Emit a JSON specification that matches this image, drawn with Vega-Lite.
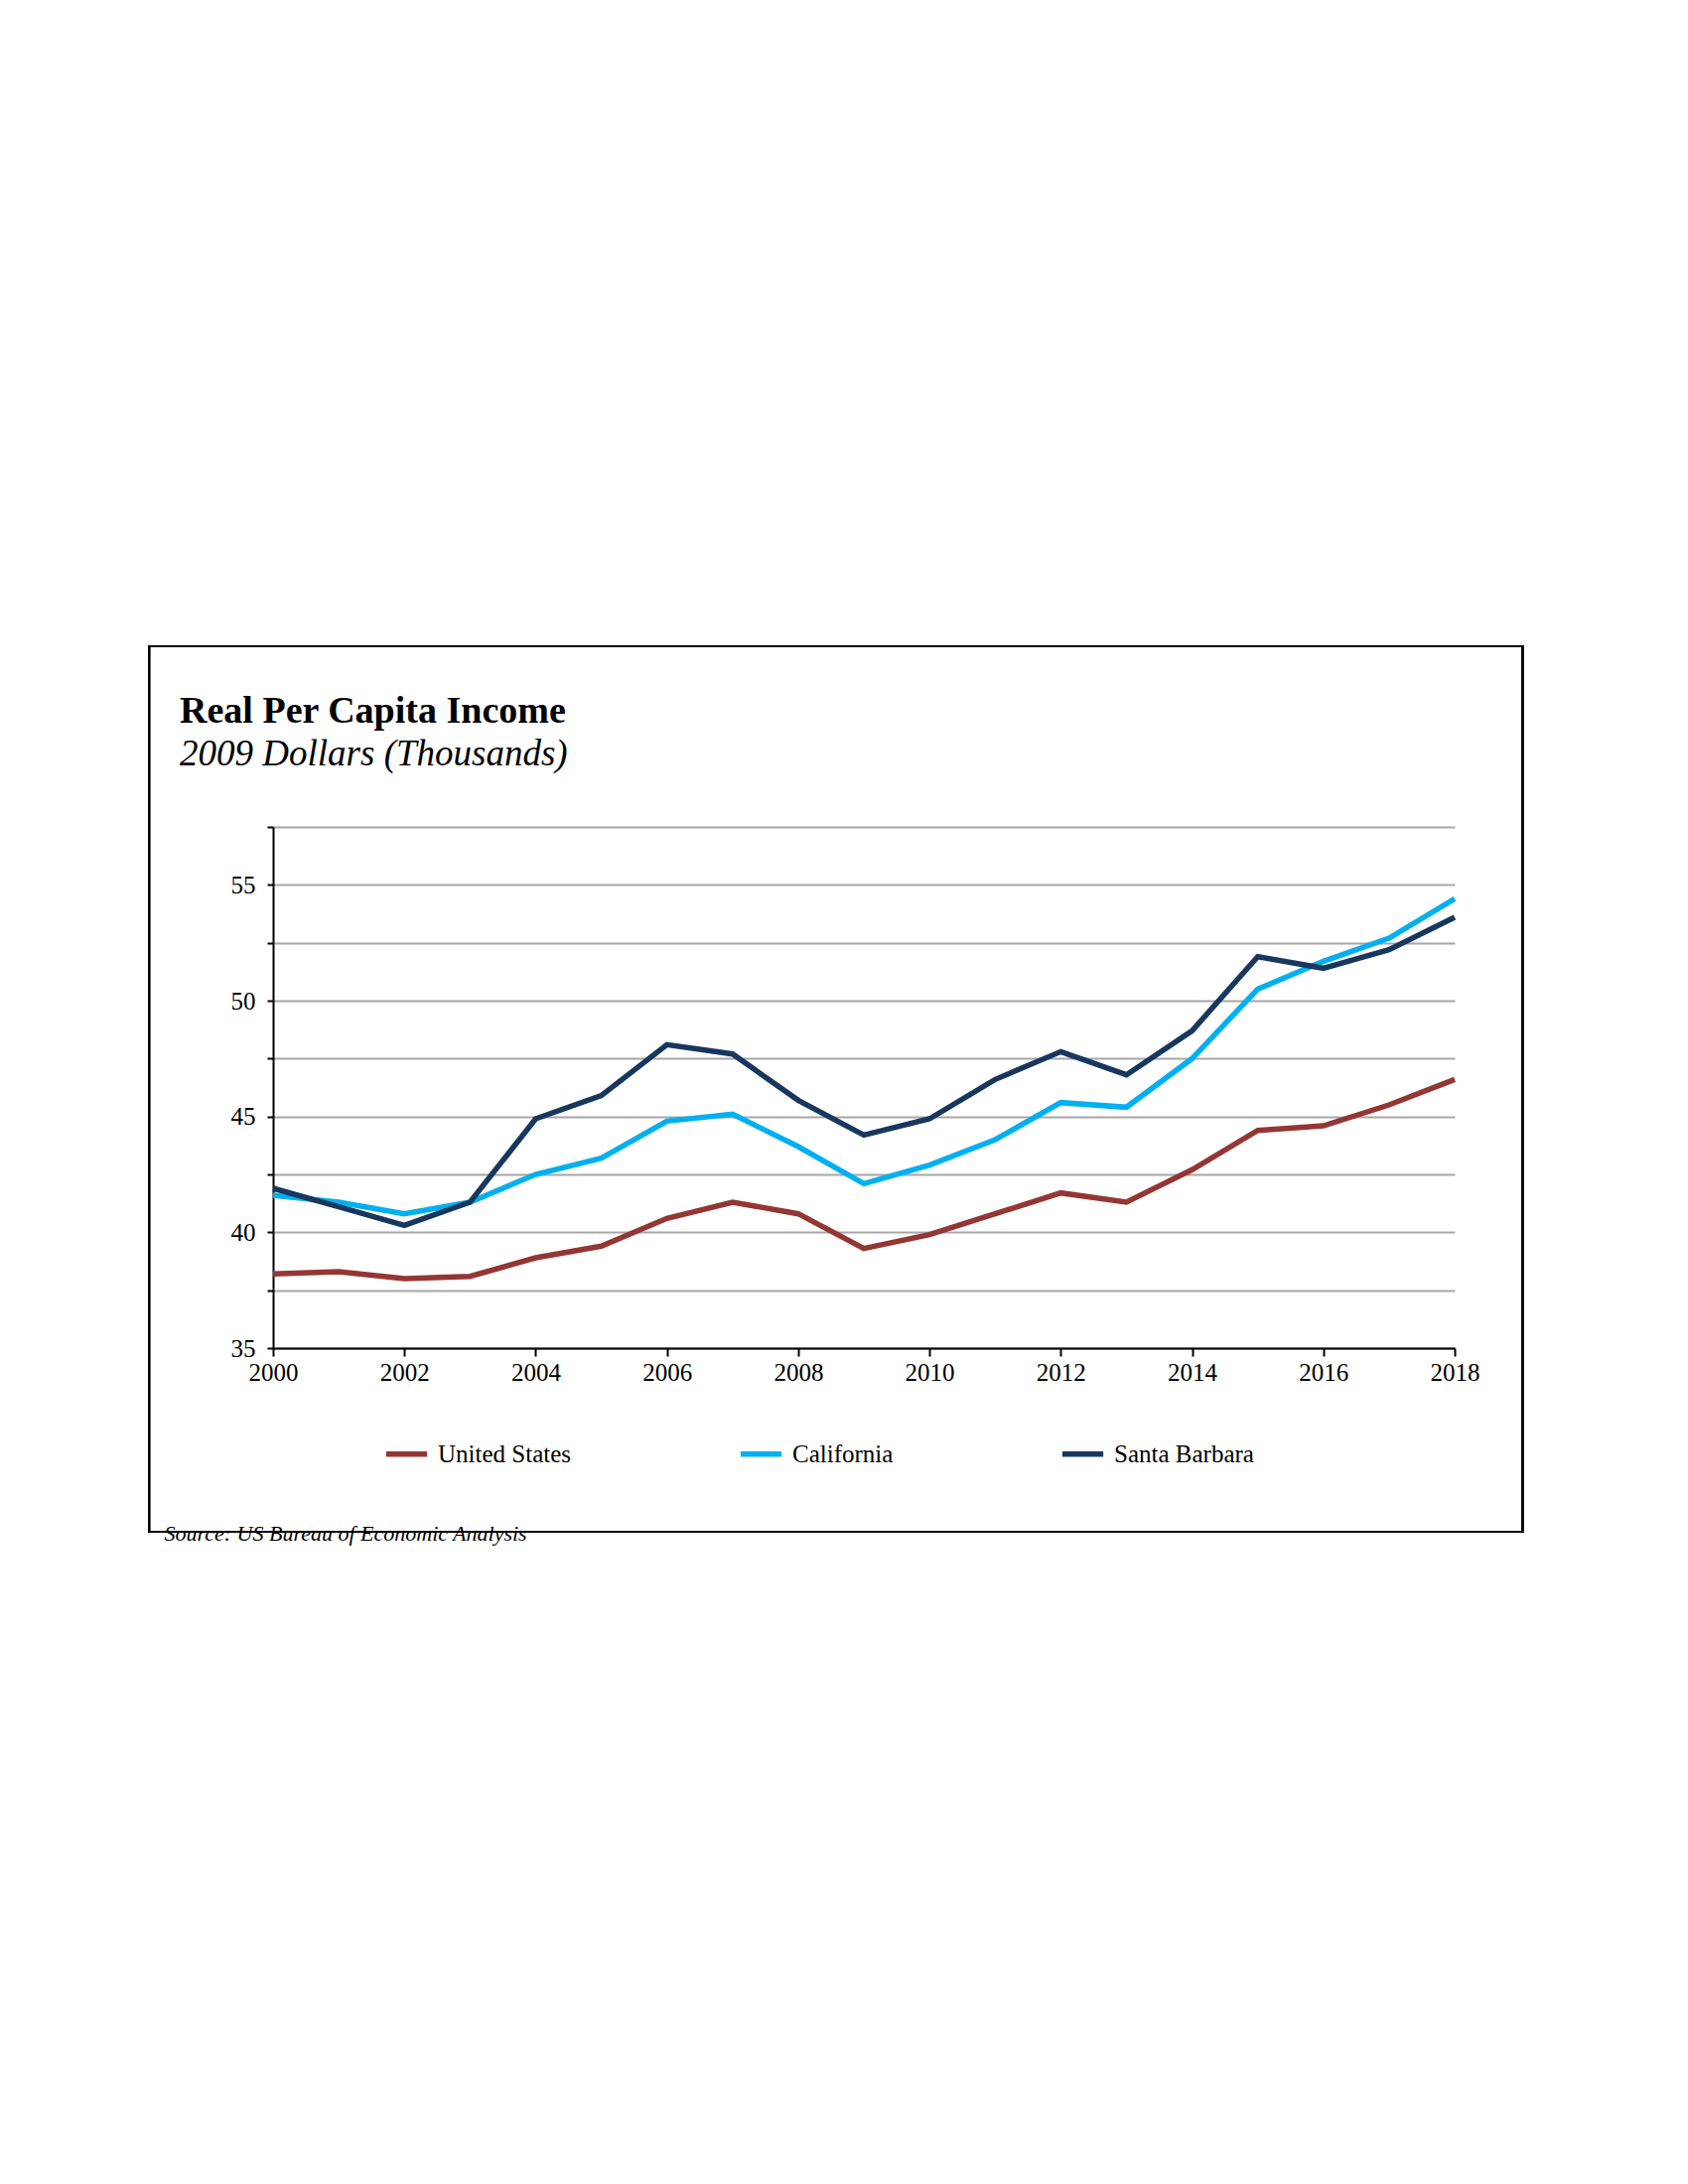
{
"$schema":"https://vega.github.io/schema/vega-lite/v6.json",
"autosize":"none","width":1190,"height":525,
"padding":{"left":275,"top":833,"right":235,"bottom":842},
"background":"white",
"config":{"view":{"stroke":null},"font":"Liberation Serif","axis":{"labelFont":"Liberation Serif","titleFont":"Liberation Serif"},"legend":{"labelFont":"Liberation Serif"}},
"title":{"text":"Real Per Capita Income","subtitle":"2009 Dollars (Thousands)","anchor":"start","dx":32,"offset":-128,"fontSize":38,"font":"Liberation Serif","fontWeight":"bold","subtitleFont":"Liberation Serif","subtitleFontSize":37,"subtitleFontStyle":"italic","subtitleColor":"black","subtitlePadding":6,"color":"black"},
"data":{"values":[
{"year":2000,"us":38.2,"ca":41.6,"sb":41.9},
{"year":2001,"us":38.3,"ca":41.3,"sb":41.1},
{"year":2002,"us":38.0,"ca":40.8,"sb":40.3},
{"year":2003,"us":38.1,"ca":41.3,"sb":41.3},
{"year":2004,"us":38.9,"ca":42.5,"sb":44.9},
{"year":2005,"us":39.4,"ca":43.2,"sb":45.9},
{"year":2006,"us":40.6,"ca":44.8,"sb":48.1},
{"year":2007,"us":41.3,"ca":45.1,"sb":47.7},
{"year":2008,"us":40.8,"ca":43.7,"sb":45.7},
{"year":2009,"us":39.3,"ca":42.1,"sb":44.2},
{"year":2010,"us":39.9,"ca":42.9,"sb":44.9},
{"year":2011,"us":40.8,"ca":44.0,"sb":46.6},
{"year":2012,"us":41.7,"ca":45.6,"sb":47.8},
{"year":2013,"us":41.3,"ca":45.4,"sb":46.8},
{"year":2014,"us":42.7,"ca":47.5,"sb":48.7},
{"year":2015,"us":44.4,"ca":50.5,"sb":51.9},
{"year":2016,"us":44.6,"ca":51.7,"sb":51.4},
{"year":2017,"us":45.5,"ca":52.7,"sb":52.2},
{"year":2018,"us":46.6,"ca":54.4,"sb":53.6}
]},
"layer":[
{"mark":{"type":"rect","fill":null,"stroke":"black","strokeWidth":2,"clip":false},
 "encoding":{"x":{"datum":1998.11,"type":"quantitative"},"x2":{"datum":2019.03},"y":{"datum":65.3,"type":"quantitative"},"y2":{"datum":27.07}}},
{"transform":[{"fold":["us","ca","sb"],"as":["key","value"]},
 {"calculate":"datum.key=='us'?'United States':datum.key=='ca'?'California':'Santa Barbara'","as":"series"}],
 "mark":{"type":"line","strokeWidth":5.5},
 "encoding":{
  "x":{"field":"year","type":"quantitative","scale":{"domain":[2000,2018],"nice":false,"zero":false},
   "axis":{"values":[2000,2002,2004,2006,2008,2010,2012,2014,2016,2018],"format":"d","grid":false,"labelFlush":false,"domainColor":"black","domainWidth":2,"tickColor":"black","tickWidth":2,"tickSize":8,"labelFontSize":25,"labelColor":"black","labelPadding":4,
    "title":"Source:  US Bureau of Economic Analysis","titleFontStyle":"italic","titleFontWeight":"normal","titleFontSize":22,"titleColor":"black","titleAnchor":"start","titleAlign":"left","titleX":-110,"titleY":176}},
  "y":{"field":"value","type":"quantitative","scale":{"domain":[35,57.5],"nice":false,"zero":false},
   "axis":{"values":[35,37.5,40,42.5,45,47.5,50,52.5,55,57.5],"labelExpr":"datum.value%5==0?datum.label:''","grid":true,"gridColor":"#A6A6A6","gridWidth":2,"domainColor":"black","domainWidth":2,"tickColor":"black","tickWidth":2,"tickSize":6,"labelFontSize":25,"labelColor":"black","labelPadding":12,"title":null}},
  "color":{"field":"series","type":"nominal","sort":["United States","California","Santa Barbara"],
   "scale":{"domain":["United States","California","Santa Barbara"],"range":["#943634","#00B0F0","#17375E"]},
   "legend":{"title":null,"orient":"none","legendX":111,"legendY":608,"direction":"horizontal","columns":3,"columnPadding":158,"symbolType":"stroke","symbolSize":1700,"symbolStrokeWidth":5.5,"labelFontSize":25,"labelColor":"black","labelOffset":8}}
 }}
]}
